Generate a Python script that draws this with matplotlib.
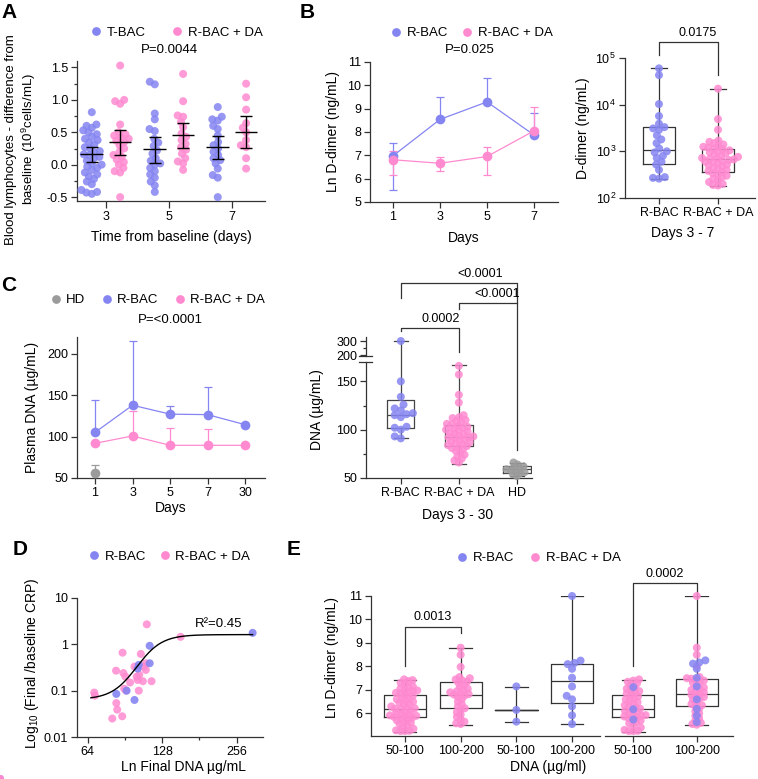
import numpy as np
import matplotlib
matplotlib.use("Agg")
import matplotlib.pyplot as plt
import matplotlib.transforms as mtransforms
from matplotlib.lines import Line2D
from matplotlib.ticker import FixedLocator, FuncFormatter, NullLocator

plt.rcParams["font.family"] = ["Liberation Sans", "DejaVu Sans"]
plt.rcParams["font.size"] = 9
plt.rcParams["axes.unicode_minus"] = False
plt.rcParams["mathtext.fontset"] = "custom"
plt.rcParams["mathtext.rm"] = "Liberation Sans"
plt.rcParams["mathtext.it"] = "Liberation Sans:italic"
plt.rcParams["mathtext.bf"] = "Liberation Sans:bold"

W, H = 758, 779
BLUE = "#8585f2"
PINK = "#ff8ad0"
GRAY = "#9b9b9b"
INK = "#333333"
DOT = 8.0  # dot diameter, px

# ---------------- A: lymphocytes, difference from baseline
a_days = [3, 5, 7]
a_tbac = [
    [0.81, 0.62, 0.6, 0.57, 0.53, 0.5, 0.47, 0.43, 0.4, 0.38, 0.34, 0.31, 0.27, 0.25, 0.21, 0.19,
     0.16, 0.15, 0.12, 0.1, 0.06, 0.02, 0.0, -0.03, -0.05, -0.08, -0.12, -0.15, -0.18, -0.22,
     -0.26, -0.3, -0.39, -0.43, -0.45, -0.42],
    [1.28, 1.24, 0.79, 0.7, 0.55, 0.52, 0.4, 0.34, 0.29, 0.22, 0.17, 0.1, 0.06, 0.02, 0.0, -0.05,
     -0.1, -0.15, -0.2, -0.26, -0.32, -0.42],
    [0.89, 0.74, 0.7, 0.68, 0.6, 0.55, 0.45, 0.35, 0.3, 0.25, 0.2, 0.15, 0.1, 0.07, 0.02, -0.06,
     -0.16, -0.2, -0.5],
]
a_rbac_da = [
    [1.53, 1.0, 0.98, 0.94, 0.62, 0.5, 0.47, 0.45, 0.42, 0.4, 0.37, 0.35, 0.3, 0.25, 0.2, 0.15,
     0.12, 0.08, 0.04, 0.0, -0.05, -0.1, -0.12, -0.5],
    [1.4, 0.98, 0.76, 0.74, 0.66, 0.58, 0.48, 0.43, 0.38, 0.32, 0.27, 0.23, 0.17, 0.1, 0.05, 0.02,
     -0.08],
    [1.25, 1.04, 0.85, 0.64, 0.57, 0.5, 0.38, 0.3, 0.27, 0.1, -0.06],
]
a_tbac_mean = [0.16, 0.24, 0.27]
a_tbac_lo = [0.044, 0.033, 0.095]
a_tbac_hi = [0.28, 0.433, 0.444]
a_da_mean = [0.346, 0.454, 0.5]
a_da_lo = [0.156, 0.259, 0.259]
a_da_hi = [0.536, 0.644, 0.746]

# ---------------- B: D-dimer over time
b_days = [1, 3, 5, 7]
b_rbac = [6.98, 8.54, 9.29, 7.87]
b_rbac_lo = [5.53, 8.54, 9.29, 7.87]
b_rbac_hi = [7.52, 9.51, 10.33, 8.83]
b_da = [6.81, 6.66, 6.95, 8.05]
b_da_lo = [6.17, 6.31, 6.17, 8.05]
b_da_hi = [7.2, 6.92, 7.37, 9.07]

# B right: D-dimer days 3-7
b2_groups = ["R-BAC", "R-BAC + DA"]
b2_rbac = [60000, 43000, 10300, 5700, 3900, 3300, 3100, 2900, 2200, 1800, 1500, 1150, 1000, 950,
           800, 720, 600, 520, 400, 280, 270, 260]
b2_da = [22000, 4900, 2900, 1700, 1600, 1500, 1400, 1300, 1250, 1200, 1150, 1100, 1050, 1000, 950,
         900, 850, 800, 760, 720, 700, 690, 670, 650, 620, 600, 580, 550, 520, 500, 480, 450, 420,
         400, 380, 360, 340, 320, 300, 280, 260, 240, 220, 200, 190, 185]
# (whislo, q1, median, q3, whishi)
b2_box = [(251, 526, 1069, 3270, 60000), (184, 355, 685, 1120, 22000)]

# ---------------- C: plasma DNA over time
c_days = ["1", "3", "5", "7", "30"]
c_rbac = [105, 137.7, 127, 126.4, 114.3]
c_rbac_hi = [144.5, 215.7, 136.5, 159.8, 114.3]
c_da = [91.8, 100.7, 89.4, 89.4, 89.4]
c_da_hi = [91.8, 130.8, 110.8, 108.8, 89.4]
c_hd = [56]
c_hd_hi = [66]

# C right: DNA days 3-30
c2_groups = ["R-BAC", "R-BAC + DA", "HD"]
c2_rbac = [300, 150, 134, 126, 122, 120, 117, 116, 115, 113, 103, 102, 100, 93, 91]
c2_da = [166, 157, 136, 128, 115, 113, 112, 110, 109, 108, 106, 105, 104, 103, 102, 101, 100, 99,
         98, 97, 96, 95, 94, 93, 92, 92, 91, 90, 89, 88, 87, 86, 85, 84, 83, 82, 81, 80, 78, 76,
         74, 72, 70, 68, 66]
c2_hd = [66, 64, 62, 61, 60, 59, 58, 57, 56, 55, 54, 52]
c2_box = [(91, 101.7, 115, 131, 300), (65, 82.6, 92, 105.2, 166.7), (52, 55.6, 59, 62.5, 66)]

# ---------------- D: CRP ratio vs final DNA
d_rbac_x = [83.6, 92, 99, 102, 103, 114, 114, 297]
d_rbac_y = [0.085, 0.1, 0.063, 0.3, 0.36, 0.93, 0.39, 1.77]
d_da_x = [68.1, 68.5, 83.4, 83.6, 84.3, 80.5, 88.3, 88.6, 89.3, 91, 90, 91.5, 95, 99, 101, 103.5,
          102, 105, 103, 107, 108, 110, 110, 111, 116, 152]
d_da_y = [0.091, 0.078, 0.27, 0.054, 0.039, 0.025, 0.028, 0.66, 0.24, 0.2, 0.11, 0.1, 0.15, 0.33,
          0.2, 0.22, 0.17, 0.62, 0.1, 0.16, 0.33, 0.28, 0.39, 2.7, 0.16, 1.45]
# sigmoid fit on log10 scale
d_fit_bottom, d_fit_top, d_fit_x50, d_fit_slope = -1.19, 0.21, 101, 8.5
d_fit_range = (66, 297)

# ---------------- E: D-dimer by DNA band
e_labels = ["50-100", "100-200", "50-100", "100-200", "50-100", "100-200"]
e_pos = [0, 1, 2, 3, 4.1, 5.24]
e_da = [
    [7.45, 7.42, 7.38, 7.3, 7.25, 7.15, 7.1, 7.05, 7.0, 6.98, 6.95, 6.9, 6.88, 6.85, 6.8, 6.75,
     6.7, 6.65, 6.6, 6.55, 6.5, 6.45, 6.42, 6.38, 6.3, 6.25, 6.22, 6.2, 6.18, 6.12, 6.08, 6.02,
     5.98, 5.95, 5.92, 5.9, 5.88, 5.85, 5.82, 5.78, 5.75, 5.7, 5.65, 5.6, 5.55, 5.5, 5.42, 5.35,
     5.28, 5.25, 5.25, 5.26],
    [8.8, 8.5, 7.98, 7.55, 7.5, 7.45, 7.4, 7.35, 7.3, 7.22, 7.12, 7.05, 7.0, 6.95, 6.9, 6.85,
     6.82, 6.8, 6.75, 6.7, 6.6, 6.5, 6.4, 6.3, 6.22, 6.15, 6.05, 5.95, 5.85, 5.75, 5.65, 5.55,
     5.58],
    [],
    [],
    [7.45, 7.4, 7.35, 7.28, 7.2, 7.12, 7.05, 7.0, 6.95, 6.9, 6.85, 6.8, 6.72, 6.65, 6.6, 6.55,
     6.48, 6.42, 6.35, 6.3, 6.25, 6.2, 6.15, 6.1, 6.05, 6.0, 5.97, 5.93, 5.9, 5.87, 5.84, 5.8,
     5.76, 5.7, 5.64, 5.58, 5.5, 5.4, 5.3, 5.26, 5.25, 5.25],
    [11.0, 8.8, 8.5, 8.0, 7.55, 7.5, 7.48, 7.45, 7.4, 7.35, 7.3, 7.2, 7.1, 7.05, 7.0, 6.95, 6.9,
     6.85, 6.8, 6.75, 6.7, 6.65, 6.6, 6.5, 6.4, 6.35, 6.3, 6.2, 6.1, 6.0, 5.9, 5.8, 5.7, 5.6,
     5.55, 5.52],
]
e_rbac = [
    [],
    [],
    [7.15, 6.15, 5.65],
    [11.0, 8.25, 8.15, 8.1, 7.9, 7.52, 7.15, 6.75, 6.6, 6.3, 5.92, 5.55],
    [7.12, 6.18, 5.74],
    [8.26, 8.17, 8.12, 7.9, 7.52, 7.15, 6.6, 6.2, 5.91, 5.63],
]
e_box = [(5.23, 5.84, 6.2, 6.8, 7.44), (5.52, 6.24, 6.8, 7.34, 8.79), (5.63, 6.13, 6.13, 6.13, 7.13),
         (5.53, 6.44, 7.38, 8.12, 11.0), (5.23, 5.87, 6.21, 6.8, 7.44), (5.52, 6.31, 6.84, 7.48, 11.0)]

fig = plt.figure(figsize=(W / 100, H / 100), dpi=100)


def add_ax(x0, y0, x1, y1):
    # pixel box (from top-left) -> figure fraction
    return fig.add_axes([x0 / W, 1 - y1 / H, (x1 - x0) / W, (y1 - y0) / H])


def style(ax):
    for s in ["top", "right"]:
        ax.spines[s].set_visible(False)
    for s in ["left", "bottom"]:
        ax.spines[s].set_color(INK)
        ax.spines[s].set_linewidth(0.9)
    ax.tick_params(which="major", length=4, width=0.9, color=INK, labelsize=9, pad=2.5)
    ax.tick_params(which="minor", length=2.5, width=0.9, color=INK)


def swarm(ax, xc, vals, d):
    # simple beeswarm in display pixels
    vals = np.asarray(vals, float)
    if len(vals) == 0:
        return vals
    pts = ax.transData.transform(np.column_stack([np.full(len(vals), xc), vals]))
    x0, ys = pts[0, 0], pts[:, 1]
    xs = np.zeros(len(vals))
    placed = []
    for i in np.argsort(ys):
        y = ys[i]
        near = [(px, py) for px, py in placed if abs(py - y) < d]
        cands = [0.0]
        for px, py in near:
            dx = np.sqrt(d ** 2 - (py - y) ** 2)
            cands += [px - dx, px + dx]
        cands.sort(key=abs)
        for c in cands:
            if all((c - px) ** 2 + (y - py) ** 2 >= d ** 2 - 1e-6 for px, py in near):
                break
        placed.append((c, y))
        xs[i] = c
    return ax.transData.inverted().transform(np.column_stack([x0 + xs, ys]))[:, 0]


def dots(ax, xc, vals, color, gap=0.8):
    xs = swarm(ax, xc, vals, DOT * gap)
    ax.scatter(xs, vals, s=(DOT * 0.72) ** 2, color=color, alpha=0.85, edgecolors="none",
               zorder=3, clip_on=False)


def boxes(ax, stats, positions, width, cap, color=INK):
    st = [dict(whislo=lo, q1=a, med=m, q3=b, whishi=hi, fliers=[]) for lo, a, m, b, hi in stats]
    p = dict(color=color, linewidth=0.9)
    ax.bxp(st, positions=positions, widths=width, capwidths=cap, showfliers=False,
           boxprops=p, whiskerprops=p, capprops=p, medianprops=p, manage_ticks=False, zorder=2)


def bracket(ax, x1, x2, y, y1, y2, label, lx=None):
    ax.plot([x1, x1, x2, x2], [y1, y, y, y2], color=INK, lw=0.9, clip_on=False)
    ax.annotate(label, ((x1 + x2) / 2 if lx is None else lx, y), xytext=(0, 2.5),
                textcoords="offset points", ha="center", va="bottom", fontsize=9,
                annotation_clip=False)


def legend(ax, items, cx, cy, colsp):
    hs = [Line2D([], [], ls="none", marker="o", ms=6.3, mfc=c, mec="none") for c, _ in items]
    ax.legend(hs, [t for _, t in items], loc="center", bbox_to_anchor=(cx, cy), ncol=len(items),
              frameon=False, handlelength=0.8, handletextpad=0.4, columnspacing=colsp,
              borderpad=0, borderaxespad=0, fontsize=9.5)


def labels(ax, xl, xc, xy, yl, yx, yc=0.5, ysize=10):
    ax.set_xlabel(xl, fontsize=10, va="center")
    ax.xaxis.set_label_coords(xc, xy)
    ax.set_ylabel(yl, fontsize=ysize, va="center", ha="center")
    ax.yaxis.set_label_coords(yx, yc)


# ================= A
axA = add_ax(77, 61, 265, 201)
style(axA)
axA.set_xlim(2.08, 8.05)
axA.set_ylim(-0.56, 1.6)
axA.set_xticks(a_days)
axA.set_yticks([-0.5, 0, 0.5, 1.0, 1.5])
axA.yaxis.set_minor_locator(FixedLocator([-0.25, 0.25, 0.75, 1.25]))
axA.yaxis.set_major_formatter(FuncFormatter(lambda v, p: f"{v:.1f}"))
axA.tick_params(axis="x", length=5)
off = 0.45
for i, d in enumerate(a_days):
    dots(axA, d - off, a_tbac[i], BLUE, 0.7)
    dots(axA, d + off, a_rbac_da[i], PINK, 0.7)
for xs, m, lo, hi in [(np.array(a_days) - off, a_tbac_mean, a_tbac_lo, a_tbac_hi),
                      (np.array(a_days) + off, a_da_mean, a_da_lo, a_da_hi)]:
    m, lo, hi = np.array(m), np.array(lo), np.array(hi)
    axA.errorbar(xs, m, yerr=[m - lo, hi - m], fmt="none", ecolor="k", elinewidth=1,
                 capsize=4, capthick=1, zorder=4)
    axA.hlines(m, xs - 0.36, xs + 0.36, color="k", lw=1, zorder=4)
labels(axA, "Time from baseline (days)", 0.5, -0.257,
       "Blood lymphocytes - difference from\nbaseline (10$^9$cells/mL)", -0.295, 0.44, 9.5)
axA.text(0.49, 1.08, "P=0.0044", transform=axA.transAxes, ha="center", va="center", fontsize=9.5)
legend(axA, [(BLUE, "T-BAC"), (PINK, "R-BAC + DA")], 0.53, 1.2, 2.0)

# ================= B left
axB = add_ax(370, 62, 558, 202)
style(axB)
axB.set_xlim(0.02, 8.02)
axB.set_ylim(5, 11)
axB.set_xticks(b_days)
axB.set_yticks(range(5, 12))
for m, lo, hi, c in [(b_rbac, b_rbac_lo, b_rbac_hi, BLUE), (b_da, b_da_lo, b_da_hi, PINK)]:
    m, lo, hi = np.array(m), np.array(lo), np.array(hi)
    axB.errorbar(b_days, m, yerr=[m - lo, hi - m], fmt="-o", color=c, ms=7, mec="none",
                 lw=0.9, elinewidth=0.9, capsize=3, capthick=0.9, zorder=3)
labels(axB, "Days", 0.5, -0.257, "Ln D-dimer (ng/mL)", -0.197)
axB.text(0.53, 1.086, "P=0.025", transform=axB.transAxes, ha="center", va="center", fontsize=9.5)
legend(axB, [(BLUE, "R-BAC"), (PINK, "R-BAC + DA")], 0.54, 1.207, 1.05)

# ================= B right
axB2 = add_ax(625, 58, 755, 198)
style(axB2)
axB2.set_yscale("log")
axB2.set_xlim(-0.576, 1.627)
axB2.set_ylim(1e2, 1e5)
axB2.yaxis.set_minor_locator(NullLocator())
axB2.set_xticks([0, 1])
axB2.set_xticklabels(b2_groups)
boxes(axB2, b2_box, [0, 1], 0.54, 0.27)
dots(axB2, 0, b2_rbac, BLUE, 0.75)
dots(axB2, 1, b2_da, PINK, 0.62)
bracket(axB2, 0, 1, 2.2e5, 1.16e5, 4.3e4, "0.0175", lx=0.65)
labels(axB2, "Days 3 - 7", 0.44, -0.25, "D-dimer (ng/mL)", -0.323)

# ================= C left
axC = add_ax(77, 337, 265, 478)
style(axC)
cx = np.arange(len(c_days))
axC.set_xlim(-0.48, 4.53)
axC.set_ylim(50, 220)
axC.set_xticks(cx)
axC.set_xticklabels(c_days)
axC.set_yticks([50, 100, 150, 200])
for m, hi, c, xs in [(c_rbac, c_rbac_hi, BLUE, cx), (c_da, c_da_hi, PINK, cx), (c_hd, c_hd_hi, GRAY, cx[:1])]:
    m, hi = np.array(m), np.array(hi)
    axC.errorbar(xs, m, yerr=[np.zeros_like(m), hi - m], fmt="-o", color=c, ms=7, mec="none",
                 lw=0.9, elinewidth=0.9, capsize=3, capthick=0.9, zorder=3, clip_on=False)
labels(axC, "Days", 0.5, -0.213, "Plasma DNA (µg/mL)", -0.24)
axC.text(0.495, 1.12, "P=<0.0001", transform=axC.transAxes, ha="center", va="center", fontsize=9.5)
legend(axC, [(GRAY, "HD"), (BLUE, "R-BAC"), (PINK, "R-BAC + DA")], 0.43, 1.262, 1.2)

# ================= C right (broken y axis)
axC2 = add_ax(366, 362, 532, 478)
axC3 = add_ax(366, 337, 532, 362)
for ax in (axC2, axC3):
    style(ax)
    ax.set_xlim(-0.6, 2.26)
    ax.patch.set_alpha(0)
axC2.set_ylim(50, 170)
axC2.set_yticks([50, 100, 150])
axC2.yaxis.set_minor_locator(FixedLocator([75, 125]))
axC2.set_xticks([0, 1, 2])
axC2.set_xticklabels(c2_groups)
axC3.set_ylim(150, 328.6)
axC3.set_yticks([200, 300])
axC3.yaxis.set_minor_locator(FixedLocator([250]))
axC3.spines["left"].set_bounds(195, 328.6)
axC3.spines["bottom"].set_visible(False)
axC3.set_xticks([])
boxes(axC2, c2_box, [0, 1, 2], 0.47, 0.24, "#444444")
boxes(axC3, c2_box[:1], [0], 0.47, 0.24, "#444444")
dots(axC2, 0, [v for v in c2_rbac if v < 170], BLUE)
dots(axC3, 0, [v for v in c2_rbac if v >= 170], BLUE)
dots(axC2, 1, c2_da, PINK, 0.6)
dots(axC2, 2, c2_hd, GRAY, 0.55)
bt = mtransforms.blended_transform_factory(axC2.transAxes, axC2.transData)
axC2.plot([-0.045, 0.035], [170, 170], color=INK, lw=0.9, transform=bt, clip_on=False)
axC3.plot([-0.045, 0.035], [195, 195], color=INK, lw=0.9,
          transform=mtransforms.blended_transform_factory(axC3.transAxes, axC3.transData), clip_on=False)
bracket(axC2, 0, 1, 205, 202, 180, "0.0002", lx=0.69)
bracket(axC2, 1, 2, 231, 225, 79, "<0.0001", lx=1.655)
bracket(axC2, 0, 2, 251.7, 236, 231, "<0.0001", lx=1.36)
labels(axC2, "Days 3 - 30", 0.55, -0.319, "DNA (µg/mL)", -0.295, 0.586)

# ================= D
axD = add_ax(77, 598, 263, 737)
style(axD)
axD.set_xscale("log", base=2)
axD.set_yscale("log")
axD.set_xlim(58, 327)
axD.set_ylim(0.01, 10)
axD.set_xticks([64, 128, 256])
axD.xaxis.set_major_formatter(FuncFormatter(lambda v, p: f"{v:g}"))
axD.xaxis.set_minor_locator(FixedLocator([64 * 2 ** 0.5, 128 * 2 ** 0.5]))
axD.xaxis.set_minor_formatter(FuncFormatter(lambda v, p: ""))
axD.set_yticks([0.01, 0.1, 1, 10])
axD.yaxis.set_major_formatter(FuncFormatter(lambda v, p: f"{v:g}"))
axD.yaxis.set_minor_locator(NullLocator())
axD.scatter(d_da_x, d_da_y, s=(DOT * 0.72) ** 2, color=PINK, alpha=0.85, edgecolors="none", zorder=3)
axD.scatter(d_rbac_x, d_rbac_y, s=(DOT * 0.72) ** 2, color=BLUE, alpha=0.9, edgecolors="none",
            zorder=3, clip_on=False)
fx = np.geomspace(*d_fit_range, 200)
fy = 10 ** (d_fit_bottom + (d_fit_top - d_fit_bottom) / (1 + (d_fit_x50 / fx) ** d_fit_slope))
axD.plot(fx, fy, color="k", lw=1, zorder=4)
axD.text(0.636, 0.81, "R²=0.45", transform=axD.transAxes, ha="left", va="center", fontsize=9.5)
labels(axD, "Ln Final DNA µg/mL", 0.57, -0.216, "Log$_{10}$ (Final /baseline CRP)", -0.242, 0.53)
legend(axD, [(BLUE, "R-BAC"), (PINK, "R-BAC + DA")], 0.497, 1.295, 1.0)

# ================= E
axE = add_ax(371, 596, 733, 736)
style(axE)
axE.set_xlim(-0.61, 5.89)
axE.set_ylim(5.04, 11.0)
axE.set_yticks(range(6, 12))
axE.set_xticks(e_pos)
axE.set_xticklabels(e_labels)
axE.spines["bottom"].set_bounds(-0.61, 3.5)
axE.plot([3.6, 5.89], [0, 0], color=INK, lw=0.9, clip_on=False,
         transform=mtransforms.blended_transform_factory(axE.transData, axE.transAxes))
boxes(axE, e_box, e_pos, 0.76, 0.41)
for p, da, rb in zip(e_pos, e_da, e_rbac):
    dots(axE, p, da, PINK, 0.56)
    dots(axE, p, rb, BLUE, 0.8)
bracket(axE, e_pos[0], e_pos[1], 9.7, 8.03, 9.43, "0.0013")
bracket(axE, e_pos[4], e_pos[5], 11.55, 8.03, 11.03, "0.0002")
labels(axE, "DNA (µg/ml)", 0.49, -0.221, "Ln D-dimer (ng/mL)", -0.108, 0.56)
legend(axE, [(BLUE, "R-BAC"), (PINK, "R-BAC + DA")], 0.463, 1.27, 1.2)

# panel letters
for t, x, y in [("A", 1, 3), ("B", 300, 3), ("C", 1, 276), ("D", 13, 540), ("E", 287, 540)]:
    fig.text(x / W, 1 - y / H, t, fontsize=15, fontweight="bold", ha="left", va="top")

fig.savefig("out.png", dpi=100)
